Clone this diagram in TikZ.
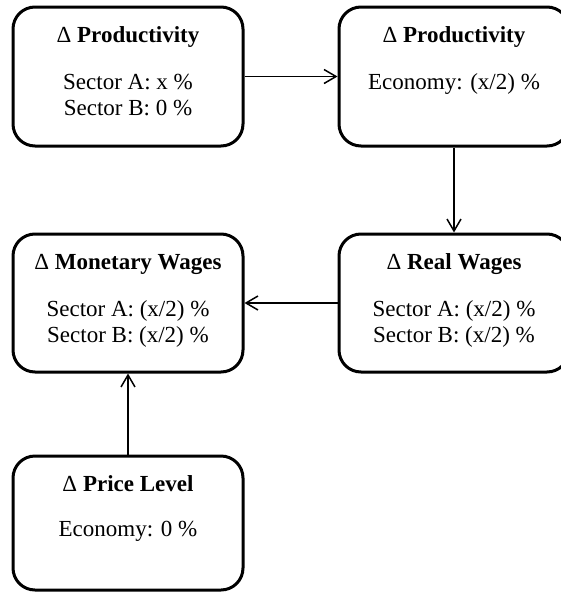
\documentclass[tikz,border=0pt]{standalone}
\usepackage{fontspec}
\setmainfont{Liberation Serif}
\usetikzlibrary{arrows.meta}
\newcommand{\chg}{{\mdseries Δ}}
\begin{document}
\begin{tikzpicture}[x=1pt,y=-1pt,
  box/.style={draw, line width=3pt, rounded corners=22pt, minimum width=230pt,
    minimum height=#1, inner sep=0pt},
  box/.default=139pt,
  head/.style={font=\fontsize{23}{27}\selectfont\bfseries, anchor=base, inner sep=0pt},
  body/.style={font=\fontsize{23}{27}\selectfont, anchor=base, inner sep=0pt},
  link/.style={line width=1.5pt, -{Straight Barb[length=12pt,width=14pt]}}]
\useasboundingbox (0,0) rectangle (561,592);
\clip (0,0) rectangle (561,592);

% boxes
\node[box] (pa) at (128,76.5) {};
\node[box] (pe) at (454,76.5) {};
\node[box=138pt] (mw) at (128,303) {};
\node[box=138pt] (rw) at (454,303) {};
\node[box=134pt] (pl) at (128,523) {};

% productivity by sector
\node[head] (pa-t) at ([yshift=-37pt]pa.north) {\chg{} Productivity};
\node[body] (pa-1) at ([yshift=-84pt]pa.north) {Sector A: x \%};
\node[body] (pa-2) at ([yshift=-110pt]pa.north) {Sector B: 0 \%};

% productivity of the economy
\node[head] (pe-t) at ([yshift=-37pt]pe.north) {\chg{} Productivity};
\node[body] (pe-1) at ([yshift=-84pt]pe.north) {Economy: (x/2) \%};

% monetary wages
\node[head] (mw-t) at ([yshift=-37pt]mw.north) {\chg{} Monetary Wages};
\node[body] (mw-1) at ([yshift=-84pt]mw.north) {Sector A: (x/2) \%};
\node[body] (mw-2) at ([yshift=-110pt]mw.north) {Sector B: (x/2) \%};

% real wages
\node[head] (rw-t) at ([yshift=-37pt]rw.north) {\chg{} Real Wages};
\node[body] (rw-1) at ([yshift=-84pt]rw.north) {Sector A: (x/2) \%};
\node[body] (rw-2) at ([yshift=-110pt]rw.north) {Sector B: (x/2) \%};

% price level
\node[head] (pl-t) at ([yshift=-37pt]pl.north) {\chg{} Price Level};
\node[body] (pl-1) at ([yshift=-82pt]pl.north) {Economy: 0 \%};

% causal links
\draw[link] (pa) -- (pe);
\draw[link] (pe) -- (rw);
\draw[link] (rw) -- (mw);
\draw[link] (pl) -- (mw);
\end{tikzpicture}
\end{document}
